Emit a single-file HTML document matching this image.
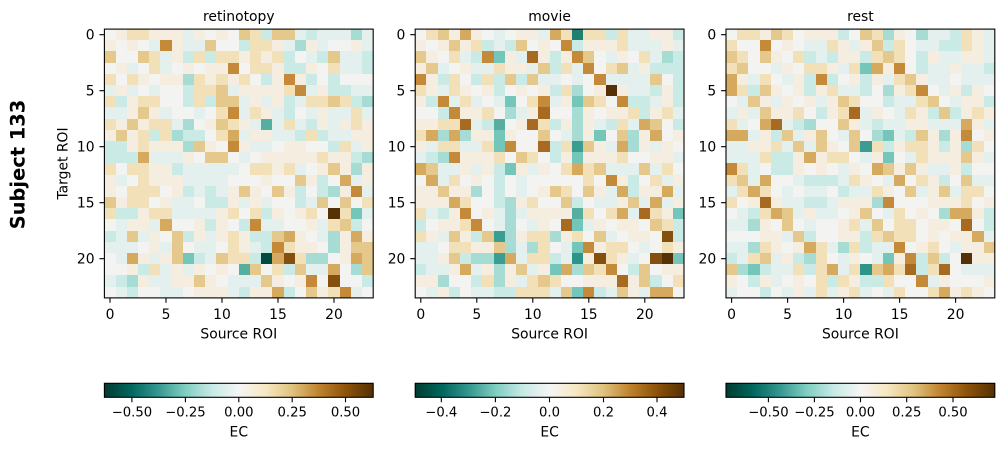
<!DOCTYPE html>
<html><head><meta charset="utf-8"><style>
html,body{margin:0;padding:0;background:#fff;}
body{width:1004px;height:450px;position:relative;overflow:hidden;font-family:"DejaVu Sans","Liberation Sans",sans-serif;}
.hm{position:absolute;top:29.1px;width:268.8px;height:268.8px;display:grid;grid-template-columns:repeat(24,1fr);grid-template-rows:repeat(24,1fr);}
.hm p{margin:0;padding:0;}
.hm p[a]{background:#014a40}.hm p[u]{background:#1f7f70}.hm p[v]{background:#2c9488}.hm p[t]{background:#3a9d92}
.hm p[s]{background:#56aea1}.hm p[b]{background:#75c6ba}.hm p[c]{background:#a6dcd4}.hm p[d]{background:#c9eae5}
.hm p[e]{background:#e3f0ee}.hm p[f]{background:#f3f3f1}.hm p[g]{background:#f5eee0}.hm p[h]{background:#f2e1b8}
.hm p[i]{background:#e4c88c}.hm p[j]{background:#d5aa5e}.hm p[k]{background:#c48a3a}.hm p[l]{background:#a86a20}
.hm p[n]{background:#85500e}.hm p[m]{background:#573106}
svg{position:absolute;left:0;top:0;}
svg text{font-family:"DejaVu Sans","Liberation Sans",sans-serif;fill:#000;}
</style></head><body>
<div class="hm" style="left:104.4px">
<p f><p g><p h><p h><p g><p g><p g><p e><p g><p f><p g><p f><p i><p h><p d><p i><p i><p e><p d><p e><p e><p e><p c><p e>
<p g><p f><p g><p f><p e><p k><p g><p e><p e><p i><p f><p f><p d><p h><p h><p g><p e><p c><p g><p e><p f><p f><p g><p e>
<p i><p f><p f><p i><p h><p e><p g><p d><p h><p d><p h><p h><p g><p h><p g><p h><p d><p f><p e><p d><p i><p e><p e><p d>
<p f><p g><p e><p f><p h><p e><p f><p g><p f><p g><p g><p k><p f><p h><p h><p g><p d><p d><p g><p f><p h><p e><p e><p d>
<p h><p f><p h><p g><p f><p g><p g><p c><p h><p g><p h><p g><p h><p f><p d><p g><p k><p g><p d><p f><p d><p f><p f><p f>
<p e><p g><p e><p f><p e><p f><p f><p d><p h><p h><p i><p e><p g><p g><p g><p g><p h><p k><p e><p g><p d><p d><p e><p e>
<p h><p d><p g><p h><p h><p f><p f><p d><p h><p d><p i><p i><p e><p g><p e><p g><p d><p e><p h><p h><p i><p h><p d><p c>
<p e><p e><p g><p i><p g><p e><p f><p f><p e><p f><p h><p k><p e><p h><p g><p e><p d><p f><p e><p g><p e><p e><p h><p e>
<p h><p g><p i><p g><p h><p h><p e><p c><p f><p g><p i><p h><p g><p e><p s><p e><p h><p e><p d><p g><p e><p g><p h><p g>
<p g><p i><p g><p h><p d><p h><p c><p d><p d><p f><p h><p j><p e><p g><p g><p e><p e><p d><p h><p d><p e><p e><p g><p g>
<p d><p d><p g><p h><p g><p g><p g><p c><p i><p g><p f><p k><p g><p e><p e><p f><p g><p g><p f><p f><p d><p h><p e><p g>
<p d><p d><p d><p j><p e><p e><p e><p g><p f><p i><p i><p f><p e><p f><p g><p g><p g><p g><p g><p h><p g><p g><p d><p c>
<p h><p f><p h><p h><p g><p g><p d><p e><p e><p e><p e><p e><p f><p h><p h><p g><p h><p e><p f><p g><p i><p g><p c><p g>
<p g><p e><p f><p h><p g><p g><p g><p e><p e><p e><p e><p f><p f><p f><p g><p f><p f><p i><p g><p d><p f><p j><p e><p g>
<p g><p f><p h><p h><p h><p f><p g><p d><p e><p d><p e><p g><p i><p g><p f><p i><p g><p d><p f><p d><p c><p g><p k><p e>
<p i><p g><p h><p h><p f><p g><p e><p e><p f><p d><p d><p g><p e><p g><p e><p f><p f><p d><p e><p i><p f><p i><p f><p h>
<p h><p d><p d><p g><p h><p h><p e><p e><p e><p e><p g><p h><p f><p h><p d><p g><p f><p g><p h><p f><p m><p h><p b><p e>
<p f><p e><p g><p g><p e><p j><p f><p f><p g><p d><p g><p f><p d><p k><p e><p e><p f><p f><p g><p e><p h><p i><p d><p f>
<p d><p e><p i><p e><p g><p f><p i><p d><p g><p e><p g><p h><p g><p d><p d><p i><p j><p g><p f><p e><p c><p g><p j><p g>
<p e><p e><p e><p f><p g><p e><p i><p f><p e><p e><p f><p h><p g><p e><p d><p k><p h><p g><p g><p f><p c><p g><p i><p i>
<p f><p e><p j><p g><p e><p g><p i><p b><p d><p e><p i><p h><p h><p d><p a><p j><p n><p h><p c><p c><p f><p g><p j><p i>
<p f><p f><p g><p d><p h><p e><p g><p e><p g><p f><p g><p f><p s><p i><p f><p h><p d><p i><p e><p e><p j><p f><p c><p i>
<p e><p d><p c><p g><p e><p e><p g><p g><p i><p g><p f><p e><p e><p e><p i><p g><p f><p g><p k><p f><p n><p f><p f><p d>
<p f><p e><p d><p f><p f><p e><p e><p f><p g><p g><p g><p e><p d><p g><p g><p j><p d><p f><p i><p g><p h><p k><p e><p f>
</div>
<div class="hm" style="left:415.2px">
<p f><p h><p i><p g><p j><p g><p f><p e><p f><p g><p g><p e><p j><p h><p u><p h><p h><p d><p h><p e><p e><p g><p g><p d>
<p g><p f><p g><p i><p g><p h><p d><p e><p d><p i><p f><p g><p f><p k><p d><p g><p g><p g><p h><p e><p e><p e><p g><p e>
<p i><p g><p f><p h><p e><p d><p k><p b><p g><p e><p l><p g><p d><p g><p k><p i><p f><p e><p g><p f><p h><p e><p c><p d>
<p g><p i><p e><p f><p g><p e><p e><p h><p g><p g><p e><p i><p d><p h><p e><p k><p f><p h><p i><p e><p g><p d><p d><p d>
<p k><p g><p d><p h><p f><p d><p h><p d><p i><p d><p i><p e><p e><p f><p e><p f><p k><p e><p e><p e><p e><p i><p f><p d>
<p h><p g><p e><p h><p g><p f><p g><p d><p f><p g><p f><p g><p d><p h><p c><p f><p g><p m><p g><p e><p e><p d><p g><p d>
<p g><p d><p k><p e><p h><p e><p f><p e><p b><p f><p h><p k><p e><p g><p b><p i><p h><p f><p k><p d><p d><p e><p g><p d>
<p f><p f><p d><p k><p g><p g><p h><p f><p c><p e><p g><p l><p f><p f><p c><p g><p f><p g><p g><p h><p d><p g><p h><p e>
<p g><p g><p h><p h><p l><p e><p d><p s><p f><p g><p l><p h><p d><p g><p c><p g><p e><p d><p h><p e><p j><p i><p f><p d>
<p h><p j><p c><p j><p c><p g><p g><p b><p g><p f><p f><p i><p f><p e><p c><p g><p b><p f><p i><p c><p g><p j><p f><p g>
<p g><p e><p h><p h><p e><p e><p h><p b><p k><p f><p f><p l><p d><p h><p t><p i><p g><p e><p j><p c><p g><p e><p g><p f>
<p e><p d><p c><p k><p g><p g><p g><p h><p f><p i><p h><p f><p d><p g><p b><p g><p g><p g><p h><p f><p f><p g><p g><p e>
<p j><p i><p e><p e><p g><p e><p g><p d><p b><p g><p e><p g><p f><p h><p j><p h><p i><p e><p e><p e><p i><p e><p h><p f>
<p f><p j><p e><p h><p f><p g><p f><p d><p f><p e><p f><p f><p f><p f><p f><p h><p f><p k><p g><p d><p f><p h><p e><p g>
<p g><p g><p i><p g><p g><p c><p f><p d><p f><p e><p f><p g><p i><p h><p f><p i><p g><p e><p j><p d><p g><p g><p j><p e>
<p g><p g><p g><p j><p h><p f><p f><p d><p c><p g><p h><p f><p f><p i><p d><p f><p e><p e><p g><p i><p e><p j><p e><p g>
<p h><p e><p d><p g><p k><p f><p g><p e><p c><p e><p g><p g><p g><p g><p s><p h><p f><p h><p j><p e><p l><p h><p g><p b>
<p d><p f><p g><p g><p h><p k><p f><p e><p c><p f><p e><p g><p f><p l><p b><p e><p g><p f><p g><p g><p f><p i><p h><p d>
<p h><p g><p e><p i><p g><p d><p i><p t><p c><p g><p h><p h><p c><p g><p h><p f><p i><p e><p f><p g><p g><p f><p n><p d>
<p e><p e><p f><p h><p h><p g><p g><p i><p c><p e><p c><p h><p f><p e><p b><p k><p g><p h><p h><p f><p e><p f><p h><p g>
<p e><p e><p g><p i><p d><p c><p c><p t><p j><p e><p h><p h><p d><p e><p v><p g><p n><p h><p g><p e><p f><p n><p m><p b>
<p d><p e><p e><p g><p j><p e><p g><p c><p g><p i><p e><p g><p b><p j><p c><p i><p h><p k><p f><p d><p i><p f><p g><p g>
<p g><p g><p c><p f><p f><p d><p h><p c><p g><p e><p h><p i><p h><p f><p f><p g><p g><p g><p l><p g><p i><p d><p f><p h>
<p f><p e><p g><p d><p f><p e><p e><p d><p d><p h><p h><p h><p e><p i><p b><p k><p d><p e><p i><p g><p e><p j><p j><p f>
</div>
<div class="hm" style="left:726px">
<p f><p h><p h><p g><p i><p h><p f><p g><p g><p g><p d><p f><p i><p h><p c><p g><p f><p c><p e><p e><p d><p h><p g><p e>
<p h><p f><p f><p k><p f><p g><p f><p e><p e><p h><p g><p e><p g><p i><p d><p h><p f><p e><p e><p d><p d><p h><p g><p e>
<p i><p h><p f><p i><p g><p f><p h><p d><p e><p d><p g><p g><p d><p h><p i><p h><p f><p d><p g><p e><p e><p g><p g><p e>
<p h><p i><p f><p f><p e><p g><p f><p h><p h><p g><p e><p h><p b><p j><p g><p k><p f><p d><p e><p e><p g><p e><p e><p d>
<p j><p g><p e><p h><p f><p e><p g><p d><p k><p d><p f><p g><p d><p g><p e><p h><p i><p g><p e><p e><p f><p e><p e><p e>
<p j><p h><p d><p i><p g><p f><p g><p d><p g><p h><p e><p e><p d><p f><p c><p g><p h><p k><p f><p e><p g><p d><p g><p f>
<p f><p e><p i><p g><p e><p g><p f><p g><p e><p g><p i><p h><p f><p f><p d><p e><p e><p h><p i><p f><p e><p g><p g><p d>
<p e><p g><p e><p i><p g><p g><p h><p f><p d><p g><p h><p l><p e><p g><p f><p e><p h><p g><p d><p i><p d><p g><p h><p g>
<p h><p e><p f><p j><p l><p e><p d><p c><p f><p f><p i><p g><p e><p d><p e><p e><p g><p g><p e><p e><p e><p j><p g><p e>
<p j><p j><p e><p g><p d><p i><p e><p g><p i><p f><p e><p i><p f><p c><p b><p e><p d><p i><p g><p c><p g><p k><p f><p g>
<p e><p e><p g><p g><p h><p e><p i><p e><p i><p g><p f><p i><p t><p h><p d><p g><p h><p h><p g><p d><p g><p c><p h><p f>
<p e><p e><p e><p h><p d><p d><p g><p j><p g><p h><p h><p f><p e><p g><p b><p f><p e><p h><p g><p g><p g><p i><p g><p e>
<p k><p h><p e><p f><p d><p d><p g><p f><p g><p f><p e><p g><p f><p j><p i><p g><p i><p g><p e><p e><p g><p d><p f><p f>
<p h><p i><p e><p j><p f><p f><p e><p d><p d><p d><p e><p h><p g><p f><p e><p j><p f><p h><p g><p d><p f><p i><p e><p e>
<p e><p h><p j><p h><p f><p e><p f><p e><p e><p f><p d><p e><p e><p h><p g><p f><p i><p e><p g><p i><p e><p h><p h><p f>
<p h><p f><p g><p l><p g><p e><p e><p d><p d><p e><p g><p g><p g><p c><p k><p f><p f><p f><p g><p g><p g><p h><p f><p g>
<p f><p e><p d><p h><p j><p i><p e><p g><p e><p e><p f><p g><p i><p f><p e><p h><p f><p g><p f><p c><p j><p j><p g><p d>
<p e><p e><p c><p g><p f><p i><p f><p e><p f><p f><p g><p h><p e><p i><p f><p h><p h><p f><p g><p g><p f><p l><p f><p d>
<p f><p f><p f><p g><p g><p e><p i><p d><p f><p f><p g><p g><p d><p h><p i><p h><p h><p f><p g><p f><p g><p g><p j><p e>
<p e><p e><p c><p h><p g><p f><p g><p j><p h><p e><p c><p h><p d><p e><p e><p k><p f><p g><p h><p f><p e><p g><p g><p i>
<p d><p e><p h><p i><p e><p g><p d><p c><p h><p f><p e><p g><p f><p e><p b><p g><p k><p d><p i><p d><p f><p m><p g><p g>
<p i><p c><p b><p d><p e><p e><p h><p d><p h><p j><p e><p h><p v><p i><p j><p h><p l><p d><p h><p l><p f><p e><p e><p e>
<p g><p f><p d><p g><p e><p f><p g><p f><p h><p d><p h><p g><p d><p d><p h><p f><p f><p k><p e><p g><p f><p f><p f><p g>
<p e><p f><p f><p d><p f><p e><p g><p e><p h><p e><p g><p h><p e><p f><p e><p h><p f><p f><p h><p j><p g><p h><p g><p f>
</div>
<svg width="1004" height="450" viewBox="0 0 1004 450" xmlns="http://www.w3.org/2000/svg">
<defs>
<linearGradient id="cb" x1="0" y1="0" x2="1" y2="0">
<stop offset="0" stop-color="#003c30"/><stop offset="0.1" stop-color="#01665e"/><stop offset="0.2" stop-color="#35978f"/>
<stop offset="0.3" stop-color="#80cdc1"/><stop offset="0.4" stop-color="#c7eae5"/><stop offset="0.5" stop-color="#f5f5f5"/>
<stop offset="0.6" stop-color="#f6e8c3"/><stop offset="0.7" stop-color="#dfc27d"/><stop offset="0.8" stop-color="#bf812d"/>
<stop offset="0.9" stop-color="#8c510a"/><stop offset="1" stop-color="#543005"/>
</linearGradient>
</defs>
<g fill="none" stroke="#000" stroke-width="1.1">
<rect x="104.4" y="29.1" width="268.8" height="268.8"/>
<rect x="415.2" y="29.1" width="268.8" height="268.8"/>
<rect x="726" y="29.1" width="268.8" height="268.8"/>
</g>
<g stroke="#000" stroke-width="1.1">
<path d="M99.5 34.7H104.4M99.5 90.7H104.4M99.5 146.7H104.4M99.5 202.7H104.4M99.5 258.7H104.4"/>
<path d="M410.3 34.7H415.2M410.3 90.7H415.2M410.3 146.7H415.2M410.3 202.7H415.2M410.3 258.7H415.2"/>
<path d="M721.1 34.7H726M721.1 90.7H726M721.1 146.7H726M721.1 202.7H726M721.1 258.7H726"/>
<path d="M110 297.9V302.8M166 297.9V302.8M222 297.9V302.8M278 297.9V302.8M334 297.9V302.8"/>
<path d="M420.8 297.9V302.8M476.8 297.9V302.8M532.8 297.9V302.8M588.8 297.9V302.8M644.8 297.9V302.8"/>
<path d="M731.6 297.9V302.8M787.6 297.9V302.8M843.6 297.9V302.8M899.6 297.9V302.8M955.6 297.9V302.8"/>
</g>
<g font-size="13.9" text-anchor="middle">
<text x="238.8" y="21">retinotopy</text>
<text x="549.6" y="21">movie</text>
<text x="860.4" y="21">rest</text>
</g>
<g font-size="13.9" text-anchor="end">
<text x="94.6" y="39.7">0</text><text x="94.6" y="95.7">5</text><text x="94.6" y="151.7">10</text><text x="94.6" y="207.7">15</text><text x="94.6" y="263.7">20</text>
<text x="405.4" y="39.7">0</text><text x="405.4" y="95.7">5</text><text x="405.4" y="151.7">10</text><text x="405.4" y="207.7">15</text><text x="405.4" y="263.7">20</text>
<text x="716.2" y="39.7">0</text><text x="716.2" y="95.7">5</text><text x="716.2" y="151.7">10</text><text x="716.2" y="207.7">15</text><text x="716.2" y="263.7">20</text>
</g>
<g font-size="13.9" text-anchor="middle">
<text x="110" y="319.2">0</text><text x="166" y="319.2">5</text><text x="222" y="319.2">10</text><text x="278" y="319.2">15</text><text x="334" y="319.2">20</text>
<text x="420.8" y="319.2">0</text><text x="476.8" y="319.2">5</text><text x="532.8" y="319.2">10</text><text x="588.8" y="319.2">15</text><text x="644.8" y="319.2">20</text>
<text x="731.6" y="319.2">0</text><text x="787.6" y="319.2">5</text><text x="843.6" y="319.2">10</text><text x="899.6" y="319.2">15</text><text x="955.6" y="319.2">20</text>
<text x="238.8" y="338.5">Source ROI</text>
<text x="549.6" y="338.5">Source ROI</text>
<text x="860.4" y="338.5">Source ROI</text>
<text transform="translate(67.5,163.5) rotate(-90)">Target ROI</text>
</g>
<text transform="translate(24.3,164.5) rotate(-90)" text-anchor="middle" font-size="19.4" font-weight="bold">Subject 133</text>
<g stroke="#000" stroke-width="1.1">
<rect x="104.4" y="383.3" width="268.8" height="14" fill="url(#cb)"/>
<rect x="415.2" y="383.3" width="268.8" height="14" fill="url(#cb)"/>
<rect x="726" y="383.3" width="268.8" height="14" fill="url(#cb)"/>
<path d="M131.9 397.3V402.2M185.4 397.3V402.2M238.8 397.3V402.2M292.2 397.3V402.2M345.5 397.3V402.2"/>
<path d="M441.3 397.3V402.2M495.4 397.3V402.2M549.5 397.3V402.2M603.5 397.3V402.2M657 397.3V402.2"/>
<path d="M768.4 397.3V402.2M814.4 397.3V402.2M860.5 397.3V402.2M906.7 397.3V402.2M953 397.3V402.2"/>
</g>
<g font-size="13.2" text-anchor="middle">
<text x="131.9" y="416.6">−0.50</text><text x="185.4" y="416.6">−0.25</text><text x="238.8" y="416.6">0.00</text><text x="292.2" y="416.6">0.25</text><text x="345.5" y="416.6">0.50</text>
<text x="441.3" y="416.6">−0.4</text><text x="495.4" y="416.6">−0.2</text><text x="549.5" y="416.6">0.0</text><text x="603.5" y="416.6">0.2</text><text x="657" y="416.6">0.4</text>
<text x="768.4" y="416.6">−0.50</text><text x="814.4" y="416.6">−0.25</text><text x="860.5" y="416.6">0.00</text><text x="906.7" y="416.6">0.25</text><text x="953" y="416.6">0.50</text>
</g>
<g font-size="13.9" text-anchor="middle">
<text x="238.8" y="436.4">EC</text>
<text x="549.6" y="436.4">EC</text>
<text x="860.4" y="436.4">EC</text>
</g>
</svg>
</body></html>
